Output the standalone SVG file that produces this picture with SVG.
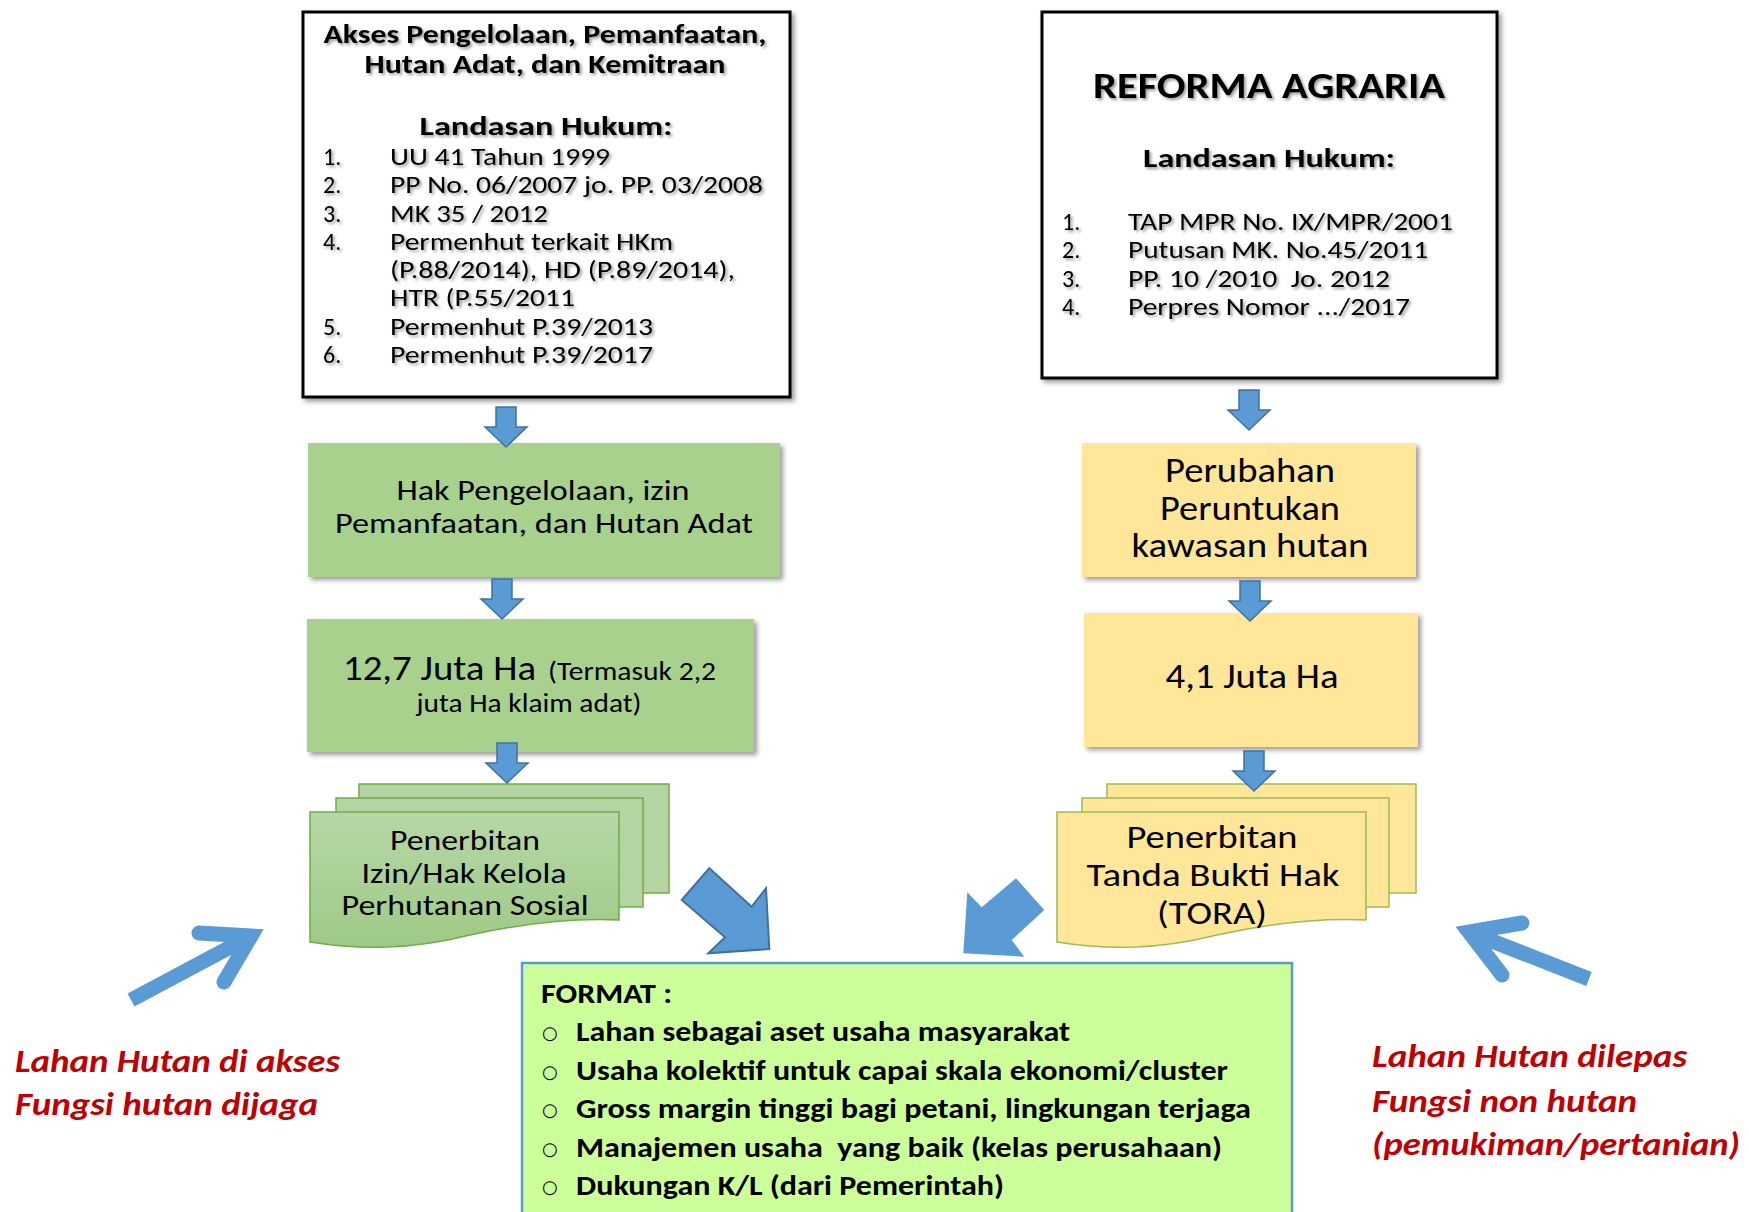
<svg xmlns="http://www.w3.org/2000/svg" width="1749" height="1212" viewBox="0 0 1749 1212">
<defs>
<style>
.f{font-family:Carlito,Lato,'Liberation Sans',sans-serif;fill:#000}
.b{font-weight:bold}
.m{text-anchor:middle}
.red{font-family:Carlito,Lato,'Liberation Sans',sans-serif;font-weight:bold;font-style:italic;fill:#C00000;font-size:32px}
.fmt{font-family:Carlito,Lato,'Liberation Sans',sans-serif;font-weight:bold;font-size:29px;fill:#000}
.bul{font-family:'DejaVu Sans',sans-serif;font-size:18px;fill:#000}
.frame{fill:#fff;stroke:#000;stroke-width:3}
.gbox{fill:#A9D18E}
.ybox{fill:#FFE699}
.gdoc{fill:#B4D5A2;stroke:#70AD47;stroke-width:1.5}
.ydoc{fill:#FFE699;stroke:#9BBB59;stroke-width:1.5}
.darr{fill:#5B9BD5;stroke:#41719C;stroke-width:1.5}
.big{fill:#5B9BD5}
.line{fill:none;stroke:#5B9BD5;stroke-width:15}
</style>
<filter id="tsh" x="-5%" y="-30%" width="110%" height="160%">
<feDropShadow dx="2" dy="2" stdDeviation="1.5" flood-color="#000" flood-opacity="0.4"/>
</filter>
<filter id="bsh" x="-5%" y="-5%" width="110%" height="115%">
<feDropShadow dx="3" dy="3" stdDeviation="2.5" flood-color="#000" flood-opacity="0.4"/>
</filter>
<linearGradient id="gfront" x1="0" y1="0" x2="0" y2="1">
<stop offset="0" stop-color="#B6D7A6"/>
<stop offset="1" stop-color="#9FCA86"/>
</linearGradient>
<path id="darr" d="M-10 0 H10 V20 H21 L0 40 L-21 20 H-10 Z"/>
</defs>
<rect width="1749" height="1212" fill="#fff"/>

<g id="box-akses">
<rect class="frame" x="303" y="12" width="487" height="385" filter="url(#bsh)"/>
<g filter="url(#tsh)">
<text class="f b m" x="545" y="43" font-size="26" textLength="443" lengthAdjust="spacingAndGlyphs">Akses Pengelolaan, Pemanfaatan,</text>
<text class="f b m" x="545" y="73" font-size="26" textLength="361" lengthAdjust="spacingAndGlyphs">Hutan Adat, dan Kemitraan</text>
<text class="f b m" x="546" y="135" font-size="27" textLength="253" lengthAdjust="spacingAndGlyphs">Landasan Hukum:</text>
<g class="f" font-size="24">
<text x="323" y="165">1.</text><text x="390" y="165" textLength="220" lengthAdjust="spacingAndGlyphs">UU 41 Tahun 1999</text>
<text x="323" y="193">2.</text><text x="390" y="193" textLength="373" lengthAdjust="spacingAndGlyphs">PP No. 06/2007 jo. PP. 03/2008</text>
<text x="323" y="222">3.</text><text x="390" y="222" textLength="158" lengthAdjust="spacingAndGlyphs">MK 35 / 2012</text>
<text x="323" y="250">4.</text><text x="390" y="250" textLength="283" lengthAdjust="spacingAndGlyphs">Permenhut terkait HKm</text>
<text x="390" y="278" textLength="345" lengthAdjust="spacingAndGlyphs">(P.88/2014), HD (P.89/2014),</text>
<text x="390" y="306" textLength="185" lengthAdjust="spacingAndGlyphs">HTR (P.55/2011</text>
<text x="323" y="335">5.</text><text x="390" y="335" textLength="263" lengthAdjust="spacingAndGlyphs">Permenhut P.39/2013</text>
<text x="323" y="363">6.</text><text x="390" y="363" textLength="263" lengthAdjust="spacingAndGlyphs">Permenhut P.39/2017</text>
</g>
</g>
</g>

<g id="box-reforma">
<rect class="frame" x="1042" y="12" width="455" height="366" filter="url(#bsh)"/>
<g filter="url(#tsh)">
<text class="f b m" x="1269" y="98" font-size="37" textLength="352" lengthAdjust="spacingAndGlyphs">REFORMA AGRARIA</text>
<text class="f b m" x="1269" y="167" font-size="27" textLength="252" lengthAdjust="spacingAndGlyphs">Landasan Hukum:</text>
<g class="f" font-size="24">
<text x="1062" y="230">1.</text><text x="1128" y="230" textLength="325" lengthAdjust="spacingAndGlyphs">TAP MPR No. IX/MPR/2001</text>
<text x="1062" y="258">2.</text><text x="1128" y="258" textLength="300" lengthAdjust="spacingAndGlyphs">Putusan MK. No.45/2011</text>
<text x="1062" y="287">3.</text><text x="1128" y="287" textLength="262" lengthAdjust="spacingAndGlyphs" xml:space="preserve">PP. 10 /2010  Jo. 2012</text>
<text x="1062" y="315">4.</text><text x="1128" y="315" textLength="282" lengthAdjust="spacingAndGlyphs">Perpres Nomor .../2017</text>
</g>
</g>
</g>

<g id="hak-pengelolaan">
<rect class="gbox" x="308" y="443" width="472" height="134" filter="url(#bsh)"/>
<text class="f m" x="543" y="500" font-size="28" textLength="293" lengthAdjust="spacingAndGlyphs">Hak Pengelolaan, izin</text>
<text class="f m" x="544" y="533" font-size="28" textLength="418" lengthAdjust="spacingAndGlyphs">Pemanfaatan, dan Hutan Adat</text>
</g>

<g id="luas-ps">
<rect class="gbox" x="307" y="619" width="447" height="133" filter="url(#bsh)"/>
<text class="f" y="680"><tspan x="343" font-size="35" textLength="193" lengthAdjust="spacingAndGlyphs">12,7 Juta Ha</tspan><tspan x="548" font-size="27" textLength="168" lengthAdjust="spacingAndGlyphs">(Termasuk 2,2</tspan></text>
<text class="f m" x="529" y="712" font-size="27" textLength="225" lengthAdjust="spacingAndGlyphs">juta Ha klaim adat)</text>
</g>

<g id="penerbitan-ps">
<rect class="gdoc" x="359" y="784" width="310" height="109"/>
<rect class="gdoc" x="336" y="798" width="307" height="109"/>
<path d="M310 812 H619 V920 C580 918 530 922 470 935 C410 950 360 950 310 942 Z" fill="url(#gfront)" stroke="#70AD47" stroke-width="1.5"/>
<text class="f m" x="465" y="850" font-size="28" textLength="150" lengthAdjust="spacingAndGlyphs">Penerbitan</text>
<text class="f m" x="464" y="883" font-size="28" textLength="205" lengthAdjust="spacingAndGlyphs">Izin/Hak Kelola</text>
<text class="f m" x="465" y="915" font-size="28" textLength="247" lengthAdjust="spacingAndGlyphs">Perhutanan Sosial</text>
</g>

<g id="perubahan-peruntukan">
<rect class="ybox" x="1082" y="443" width="334" height="134" filter="url(#bsh)"/>
<text class="f m" x="1250" y="482" font-size="34" textLength="170" lengthAdjust="spacingAndGlyphs">Perubahan</text>
<text class="f m" x="1250" y="520" font-size="34" textLength="180" lengthAdjust="spacingAndGlyphs">Peruntukan</text>
<text class="f m" x="1250" y="557" font-size="34" textLength="237" lengthAdjust="spacingAndGlyphs">kawasan hutan</text>
</g>

<g id="luas-ra">
<rect class="ybox" x="1084" y="613" width="334" height="134" filter="url(#bsh)"/>
<text class="f m" x="1252" y="688" font-size="34" textLength="173" lengthAdjust="spacingAndGlyphs">4,1 Juta Ha</text>
</g>

<g id="penerbitan-tora">
<rect class="ydoc" x="1107" y="784" width="309" height="109"/>
<rect class="ydoc" x="1082" y="798" width="307" height="109"/>
<path class="ydoc" d="M1057 812 H1366 V920 C1327 918 1277 922 1217 935 C1157 950 1107 950 1057 942 Z"/>
<text class="f m" x="1212" y="848" font-size="33" textLength="171" lengthAdjust="spacingAndGlyphs">Penerbitan</text>
<text class="f m" x="1213" y="886" font-size="33" textLength="253" lengthAdjust="spacingAndGlyphs">Tanda Bukti Hak</text>
<text class="f m" x="1212" y="924" font-size="33" textLength="110" lengthAdjust="spacingAndGlyphs">(TORA)</text>
</g>

<g id="format">
<rect x="522" y="963" width="770" height="262" fill="#CCFF99" stroke="#5B9BD5" stroke-width="2.5"/>
<text class="fmt" x="541" y="1003" textLength="131" lengthAdjust="spacingAndGlyphs">FORMAT :</text>
<text class="bul" x="542" y="1039">○</text>
<text class="fmt" x="576" y="1041" textLength="494" lengthAdjust="spacingAndGlyphs">Lahan sebagai aset usaha masyarakat</text>
<text class="bul" x="542" y="1078">○</text>
<text class="fmt" x="576" y="1080" textLength="652" lengthAdjust="spacingAndGlyphs">Usaha kolektif untuk capai skala ekonomi/cluster</text>
<text class="bul" x="542" y="1116">○</text>
<text class="fmt" x="576" y="1118" textLength="675" lengthAdjust="spacingAndGlyphs">Gross margin tinggi bagi petani, lingkungan terjaga</text>
<text class="bul" x="542" y="1155">○</text>
<text class="fmt" x="576" y="1157" textLength="646" lengthAdjust="spacingAndGlyphs" xml:space="preserve">Manajemen usaha  yang baik (kelas perusahaan)</text>
<text class="bul" x="542" y="1193">○</text>
<text class="fmt" x="576" y="1195" textLength="428" lengthAdjust="spacingAndGlyphs">Dukungan K/L (dari Pemerintah)</text>
</g>

<g id="label-left">
<text class="red" x="15" y="1072" textLength="325" lengthAdjust="spacingAndGlyphs">Lahan Hutan di akses</text>
<text class="red" x="15" y="1115" textLength="303" lengthAdjust="spacingAndGlyphs">Fungsi hutan dijaga</text>
</g>

<g id="label-right">
<text class="red" x="1372" y="1067" textLength="315" lengthAdjust="spacingAndGlyphs">Lahan Hutan dilepas</text>
<text class="red" x="1372" y="1112" textLength="265" lengthAdjust="spacingAndGlyphs">Fungsi non hutan</text>
<text class="red" x="1372" y="1155" textLength="368" lengthAdjust="spacingAndGlyphs">(pemukiman/pertanian)</text>
</g>

<g id="connectors">
<use href="#darr" class="darr" transform="translate(506 407)"/>
<use href="#darr" class="darr" transform="translate(502 579)"/>
<use href="#darr" class="darr" transform="translate(507 743)"/>
<use href="#darr" class="darr" transform="translate(1249 390)"/>
<use href="#darr" class="darr" transform="translate(1250 581)"/>
<use href="#darr" class="darr" transform="translate(1254 751)"/>
<polygon class="big" points="709.3,868.3 751.7,906.7 766,888.3 769.3,949 708.3,953.3 725,937.3 681.7,900" stroke="#41719C" stroke-width="2"/>
<polygon class="big" points="1016,878.3 1044.3,910 1011.7,940 1024.3,956.7 963.3,953.3 967.3,892.3 981.7,907.3"/>
<path class="line" d="M131 1000 L251 936"/>
<path class="line" d="M199 933 L251 936 L224 982" stroke-linecap="round" stroke-linejoin="miter"/>
<path class="line" d="M1589 979 L1469 932"/>
<path class="line" d="M1522 923 L1469 932 L1502 975" stroke-linecap="round" stroke-linejoin="miter"/>
</g>
</svg>
